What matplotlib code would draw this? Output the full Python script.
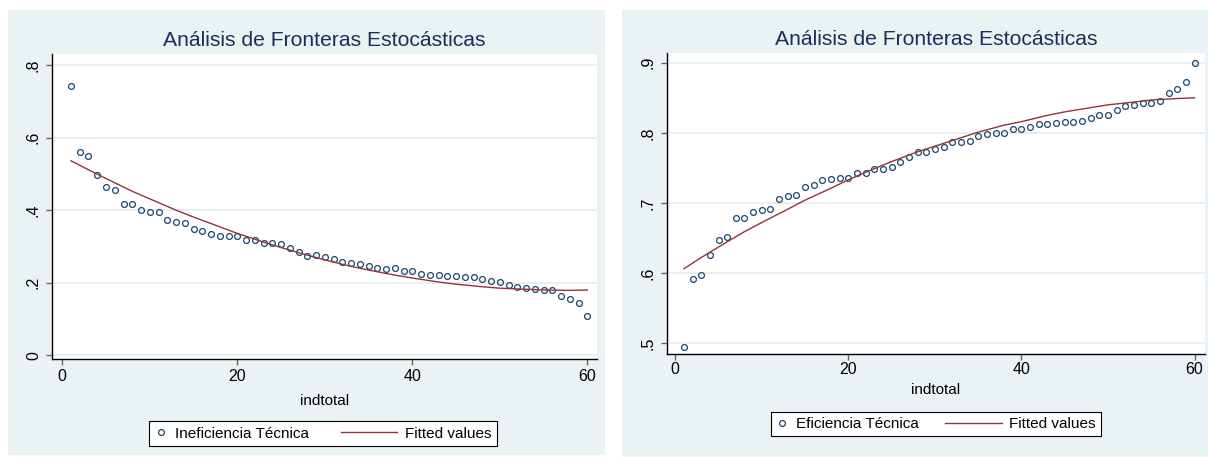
import matplotlib
matplotlib.use("Agg")
import matplotlib.pyplot as plt
from matplotlib.patches import Rectangle
from matplotlib.legend_handler import HandlerLine2D
import numpy as np

plt.rcParams["font.family"] = ["Liberation Sans", "DejaVu Sans"]

# Data
indtotal = np.arange(1, 61)

ineficiencia = [0.741, 0.559, 0.548, 0.498, 0.463, 0.456, 0.416, 0.416, 0.400, 0.396,
                0.395, 0.373, 0.367, 0.365, 0.348, 0.343, 0.333, 0.330, 0.330, 0.328,
                0.319, 0.318, 0.309, 0.309, 0.307, 0.297, 0.286, 0.275, 0.276, 0.270,
                0.265, 0.257, 0.255, 0.253, 0.245, 0.242, 0.239, 0.240, 0.232, 0.232,
                0.225, 0.221, 0.220, 0.219, 0.218, 0.216, 0.215, 0.210, 0.204, 0.202,
                0.194, 0.188, 0.186, 0.182, 0.180, 0.179, 0.164, 0.156, 0.143, 0.109]

eficiencia = [0.494, 0.591, 0.597, 0.626, 0.647, 0.652, 0.678, 0.678, 0.687, 0.690,
              0.691, 0.706, 0.710, 0.711, 0.722, 0.725, 0.732, 0.734, 0.735, 0.736,
              0.742, 0.743, 0.749, 0.749, 0.751, 0.758, 0.766, 0.773, 0.773, 0.777,
              0.780, 0.787, 0.787, 0.789, 0.795, 0.798, 0.800, 0.800, 0.805, 0.806,
              0.809, 0.813, 0.813, 0.814, 0.815, 0.816, 0.817, 0.821, 0.825, 0.826,
              0.833, 0.838, 0.840, 0.842, 0.843, 0.845, 0.857, 0.863, 0.872, 0.900]

# fitted values, read every few units along the curve
fit_x = [1, 3, 5, 8, 10, 13, 15, 18, 20, 23, 25, 28, 30, 33, 35, 38, 40, 43, 45, 48, 50, 53, 55, 58, 60]
fit_inef = [0.536, 0.511, 0.487, 0.452, 0.431, 0.400, 0.381, 0.354, 0.336, 0.312, 0.297,
            0.276, 0.263, 0.245, 0.235, 0.221, 0.213, 0.202, 0.196, 0.189, 0.185,
            0.182, 0.180, 0.179, 0.180]
fit_efic = [0.606, 0.622, 0.637, 0.659, 0.672, 0.691, 0.704, 0.721, 0.733, 0.749, 0.759,
            0.773, 0.781, 0.793, 0.801, 0.811, 0.816, 0.825, 0.830, 0.836, 0.840,
            0.844, 0.847, 0.849, 0.850]

left_yticks = [0, 0.2, 0.4, 0.6, 0.8]
left_ylabels = ["0", ".2", ".4", ".6", ".8"]
right_yticks = [0.5, 0.6, 0.7, 0.8, 0.9]
right_ylabels = [".5", ".6", ".7", ".8", ".9"]
xticks = [0, 20, 40, 60]

title = "Análisis de Fronteras Estocásticas"

# Stata s2color look
BG = "#EAF2F3"
NAVY = "#1A476F"
MAROON = "#90353B"
TITLE_C = "#1C2E5A"

W, H = 1208, 462


def px_rect(x0, y0, x1, y1):
    return [x0 / W, 1 - y1 / H, (x1 - x0) / W, (y1 - y0) / H]


class LongLine(HandlerLine2D):
    # stretch the line key to the left into the column gap, like Stata does
    def create_artists(self, legend, orig_handle, xdescent, ydescent,
                       width, height, fontsize, trans):
        ext = 2.9 * fontsize
        return super().create_artists(legend, orig_handle, xdescent + ext, ydescent,
                                      width + ext, height, fontsize, trans)


def panel(bg, box, y, fit_y, yticks, ylabels, ylim, xlim, label, leg_center,
          xpad, labelpad, colsp):
    fig.patches.append(Rectangle((bg[0], bg[1]), bg[2], bg[3], transform=fig.transFigure,
                                 facecolor=BG, edgecolor="none", zorder=-5))
    ax = fig.add_axes(box)
    ax.set_facecolor("white")

    pts, = ax.plot(indtotal, y, "o", mfc="none", mec=NAVY, ms=4.2, mew=0.9, ls="none")
    fl, = ax.plot(fit_x, fit_y, color=MAROON, lw=1.0)

    ax.set_xlim(*xlim)
    ax.set_ylim(*ylim)
    ax.set_xticks(xticks)
    ax.set_yticks(yticks)
    ax.set_yticklabels(ylabels, rotation=90, va="center")
    ax.yaxis.grid(True, color="#E3ECEE", lw=1.2)
    ax.set_axisbelow(True)
    for s in ["top", "right"]:
        ax.spines[s].set_visible(False)
    for s in ["left", "bottom"]:
        ax.spines[s].set_color("black")
        ax.spines[s].set_linewidth(1.0)
    ax.tick_params(direction="out", length=4, width=1.0, color="#666666",
                   labelsize=11.5)
    ax.tick_params(axis="x", pad=xpad)
    ax.tick_params(axis="y", pad=4)
    ax.set_xlabel("indtotal", fontsize=11, labelpad=labelpad)
    ax.set_title(title, fontsize=15.2, color=TITLE_C, pad=6)

    leg = fig.legend([pts, fl], [label, "Fitted values"], ncol=2, loc="center",
                     bbox_to_anchor=leg_center, bbox_transform=fig.transFigure,
                     fontsize=11, handlelength=0.8, handletextpad=0.5,
                     columnspacing=colsp, borderpad=0.35, numpoints=1,
                     fancybox=False, framealpha=1, edgecolor="black",
                     handler_map={fl: LongLine()})
    leg.get_frame().set_linewidth(0.8)
    return ax


fig = plt.figure(figsize=(W / 100, H / 100), dpi=100)
fig.patch.set_facecolor("white")

panel(px_rect(8, 10, 605, 455), px_rect(52, 54, 597, 359), ineficiencia, fit_inef,
      left_yticks, left_ylabels, (-0.010, 0.830), (-1.17, 61.1),
      "Ineficiencia Técnica", (323 / W, 1 - 433.5 / H), 3.5, 7, 5.0)

panel(px_rect(622, 10, 1208, 457), px_rect(667, 53, 1205, 354), eficiencia, fit_efic,
      right_yticks, right_ylabels, (0.4843, 0.914), (-0.95, 61.2),
      "Eficiencia Técnica", (936 / W, 1 - 424 / H), 2, 4, 4.6)

fig.savefig("out.png", dpi=100)
